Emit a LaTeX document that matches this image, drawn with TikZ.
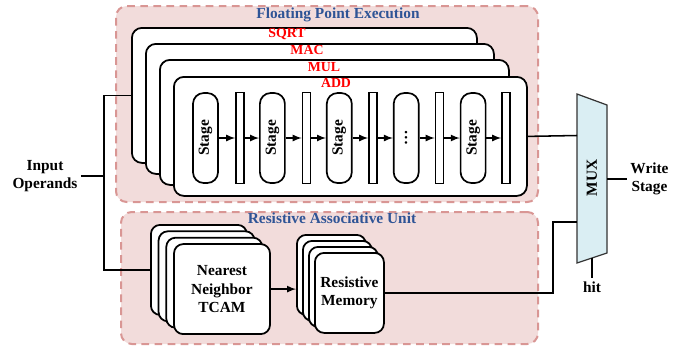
\documentclass[tikz,border=0pt]{standalone}
\usepackage{fontspec}
\setmainfont{Liberation Serif}
\usetikzlibrary{positioning}
\definecolor{boxpink}{HTML}{F2DCDB}
\definecolor{boxedge}{HTML}{D99694}
\definecolor{titleblue}{HTML}{2F5496}
\definecolor{muxblue}{HTML}{DAEEF3}
\newcommand{\pxu}{0.65pt}

\tikzset{
  region/.style={draw=boxedge, fill=boxpink, line width=1.3pt, dash pattern=on 5pt off 3.5pt,
    rounded corners=7pt, anchor=north west, inner sep=0pt},
  unit/.style={draw, fill=white, line width=1.15pt, rounded corners=6.5pt, anchor=north west, inner sep=0pt},
  card/.style={draw, fill=white, line width=1.15pt, rounded corners=6pt, anchor=north west, inner sep=0pt},
  stagebox/.style={draw, fill=white, line width=1.1pt, rounded corners=7pt, rotate=90,
    minimum width=90*\pxu, minimum height=25*\pxu, inner sep=0pt, font=\bfseries},
  regbox/.style={draw, fill=white, line width=1.1pt, minimum width=8*\pxu, minimum height=91*\pxu, inner sep=0pt},
  lbl/.style={font=\bfseries, inner sep=2pt},
  title/.style={font=\bfseries, text=titleblue, inner sep=1pt},
  unitname/.style={font=\bfseries\fontsize{9}{10}\selectfont, text=red, inner sep=1pt},
  wire/.style={line width=1pt},
  flow/.style={wire, -latex},
  muxshape/.style={draw=black!80, fill=muxblue, line width=0.8pt}
}

\begin{document}
\begin{tikzpicture}[x=0.65pt, y=-0.65pt]
\useasboundingbox (0,0) rectangle (682,347);

% the two dashed regions
\node[region, minimum width=422*\pxu, minimum height=196*\pxu] (fpe) at (115,5) {};
\node[region, minimum width=417*\pxu, minimum height=132*\pxu] (rau) at (120,211) {};
\node[title] (fpe-title) at (338,15) {Floating Point Execution};
\node[title] (rau-title) at (332,218) {Resistive Associative Unit};

% functional units, back to front
\foreach \n/\lbl/\x/\y/\bw/\bh/\lx/\ly in {sqrt/SQRT/131/27/345/135/287/34,
    mac/MAC/145/43/348/130/307/50, mul/MUL/159/59/349/125/324/67, add/ADD/173/76/353/119/336/83} {
  \node[unit, minimum width=\bw*\pxu, minimum height=\bh*\pxu] (\n) at (\x,\y) {};
  \node[unitname] (\n-name) at (\lx,\ly) {\lbl};
}

% pipeline of the front unit
\foreach \i/\lbl in {0/Stage, 1/Stage, 2/Stage, 3/\dots, 4/Stage} {
  \node[stagebox] (st\i) at (205.5+66.9*\i, 138) {\lbl};
  \node[regbox] (rg\i) at (240+66.5*\i, 138) {};
  \draw[flow] (st\i) -- (rg\i);
}
\foreach \i [evaluate=\i as \j using int(\i+1)] in {0,...,3}
  \draw[flow] (rg\i) -- (st\j);

% associative unit
\foreach \i in {0,...,3}
  \node[card, minimum width=96*\pxu, minimum height=90*\pxu] (tcam\i) at (150+7.7*\i, 224+6.4*\i) {};
\node[lbl, align=center] (tcam-text) at (tcam3) {Nearest\\Neighbor\\TCAM};

\foreach \i in {0,...,3}
  \node[card, minimum width=69*\pxu, minimum height=80*\pxu] (rm\i) at (296+6*\i, 234+6*\i) {};
\node[lbl, align=center] (rm-text) at (rm3) {Resistive\\Memory};

% mux
\draw[muxshape] (577,94) -- (607,105) -- (607,253) -- (577,263) -- cycle;
\node[lbl, rotate=90] (mux) at (592,178) {MUX};
\coordinate (mux-a) at (577,135.5);
\coordinate (mux-b) at (577,222);
\coordinate (mux-o) at (607,179);
\coordinate (mux-s) at (592,258);
\coordinate (turn) at (553,222);
\coordinate (split) at (104,176);

\node[lbl, align=center] (inop) at (45,176) {Input\\Operands};
\node[lbl, align=center, right=13pt of mux-o] (wst) {Write\\Stage};
\node[lbl] (hit) at (592,287) {hit};

% wires
\draw[wire] (inop.east) -- (split);
\draw[wire] (sqrt.west) -| (split) |- (tcam0.west);
\draw[wire] (add.east) -- (mux-a);
\draw[flow] (tcam3.east) -- (tcam3.east -| rm0.west);
\draw[wire] (rm3.east) -| (turn) -- (mux-b);
\draw[wire] (mux-o) -- (wst);
\draw[wire] (mux-s) -- (hit);

\end{tikzpicture}
\end{document}
